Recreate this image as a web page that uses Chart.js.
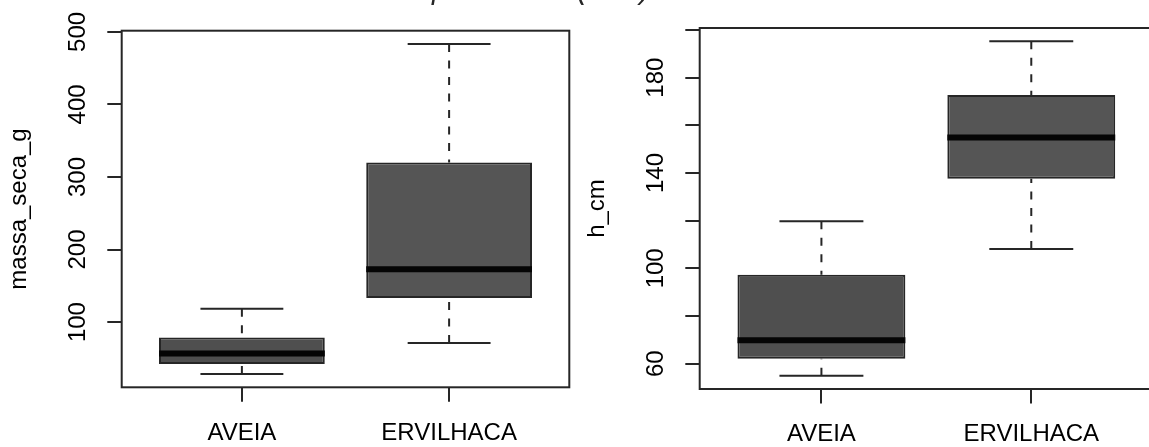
<!DOCTYPE html>
<html lang="pt">
<head>
<meta charset="UTF-8">
<title>massa_seca_g e h_cm por espécie</title>
<script src="https://cdn.jsdelivr.net/npm/chart.js"></script>
<style>
  html, body { margin: 0; padding: 0; background: #fff; overflow: hidden; }
  .panel { position: absolute; left: 0; top: 0; height: 447px; }
  #leftPanel { width: 1149px; }
  #rightPanel { width: 1165px; }
</style>
</head>
<body>
<div class="panel" id="leftPanel"><canvas id="massaChart"></canvas></div>
<div class="panel" id="rightPanel"><canvas id="alturaChart"></canvas></div>

<script>
  // data
  const categories = ['AVEIA', 'ERVILHACA'];
  const boxColors = ['#4f4f4f', '#555555'];

  const massaMin = [28.3, 71.0];
  const massaQ1 = [42.1, 133.1];
  const massaMedian = [56.8, 172.7];
  const massaQ3 = [78.9, 319.9];
  const massaMax = [118.5, 483.4];
  const massaTicks = [100, 200, 300, 400, 500];
  const massaTickLabels = ['100', '200', '300', '400', '500'];

  const alturaMin = [55.0, 108.1];
  const alturaQ1 = [62.1, 137.6];
  const alturaMedian = [69.8, 154.9];
  const alturaQ3 = [97.3, 172.7];
  const alturaMax = [119.8, 195.2];
  const alturaTicks = [60, 80, 100, 120, 140, 160, 180, 200];
  const alturaTickLabels = ['60', '', '100', '', '140', '', '180', ''];

  const FONT = {family: '"Liberation Sans", Arial, sans-serif', size: 24};
  const INK = '#262626';

  // R style axis limits: 4% beyond the data range
  function paddedRange(lo, hi) {
    const a = Math.min(...lo), b = Math.max(...hi), r = b - a;
    return [a - 0.04 * r, b + 0.04 * r];
  }

  // median bar, dashed whiskers, staples and the frame
  const boxExtras = {
    id: 'boxExtras',
    afterDatasetsDraw(chart, args, o) {
      const {ctx, scales: {x, y}} = chart;
      const meta = chart.getDatasetMeta(0);
      ctx.save();
      o.median.forEach((m, i) => {
        const cx = x.getPixelForValue(i + 1);
        const half = meta.data[i].width / 2;
        const yMax = y.getPixelForValue(o.max[i]);
        const yMin = y.getPixelForValue(o.min[i]);

        ctx.strokeStyle = INK;
        ctx.lineWidth = 2;
        ctx.setLineDash([8, 8.5]);
        ctx.beginPath();
        ctx.moveTo(cx, yMax);
        ctx.lineTo(cx, y.getPixelForValue(o.q3[i]));
        ctx.moveTo(cx, yMin);
        ctx.lineTo(cx, y.getPixelForValue(o.q1[i]));
        ctx.stroke();
        ctx.setLineDash([]);

        ctx.beginPath();
        ctx.moveTo(cx - half / 2, yMax);
        ctx.lineTo(cx + half / 2, yMax);
        ctx.moveTo(cx - half / 2, yMin);
        ctx.lineTo(cx + half / 2, yMin);
        ctx.stroke();

        const ym = y.getPixelForValue(m);
        ctx.strokeStyle = '#050505';
        ctx.lineWidth = 6;
        ctx.lineCap = 'butt';
        ctx.beginPath();
        ctx.moveTo(cx - half, ym);
        ctx.lineTo(cx + half, ym);
        ctx.stroke();
      });
      const a = chart.chartArea;
      ctx.strokeStyle = INK;
      ctx.lineWidth = 2;
      ctx.strokeRect(a.left, a.top, a.right - a.left, a.bottom - a.top);
      ctx.restore();
    }
  };

  // title sits above the picture, only its descenders show
  const cutTitle = {
    id: 'cutTitle',
    afterDraw(chart, args, o) {
      if (!o.text) return;
      const ctx = chart.ctx;
      ctx.save();
      ctx.font = 'italic 29px "Liberation Sans", Arial, sans-serif';
      ctx.fillStyle = INK;
      ctx.textBaseline = 'alphabetic';
      const lead = ctx.measureText(o.lead).width;
      ctx.fillText(o.text, o.anchor - lead, o.baseline);
      ctx.restore();
    }
  };

  function makeBox(canvasId, cfg) {
    const [yLo, yHi] = paddedRange(cfg.min, cfg.max);
    const n = categories.length;
    return new Chart(document.getElementById(canvasId), {
      type: 'bar',
      data: {
        datasets: [{
          data: categories.map((c, i) => ({x: i + 1, y: [cfg.q1[i], cfg.q3[i]]})),
          backgroundColor: boxColors,
          borderColor: INK,
          borderWidth: 2,
          borderSkipped: false,
          barPercentage: 0.8,
          categoryPercentage: 1
        }]
      },
      options: {
        responsive: true,
        maintainAspectRatio: false,
        animation: false,
        layout: {padding: cfg.padding},
        plugins: {
          legend: {display: false},
          tooltip: {enabled: false},
          boxExtras: {median: cfg.median, min: cfg.min, max: cfg.max, q1: cfg.q1, q3: cfg.q3},
          cutTitle: cfg.title || {}
        },
        scales: {
          x: {
            type: 'linear',
            offset: false,
            min: 0.5 - 0.04 * n,
            max: n + 0.5 + 0.04 * n,
            afterBuildTicks: s => { s.ticks = categories.map((c, i) => ({value: i + 1})); },
            afterFit: s => { s.height = cfg.xAxisHeight; },
            border: {display: false},
            grid: {drawOnChartArea: false, offset: false, tickLength: 14.4, color: INK, lineWidth: 2},
            ticks: {
              autoSkip: false, maxRotation: 0, padding: 17, color: '#000', font: FONT,
              callback: v => categories[v - 1]
            }
          },
          y: {
            type: 'linear',
            min: yLo,
            max: yHi,
            afterBuildTicks: s => { s.ticks = cfg.ticks.map(v => ({value: v})); },
            afterFit: s => { s.width = 121.7; },
            border: {display: false},
            grid: {drawOnChartArea: false, tickLength: 14.4, color: INK, lineWidth: 2},
            ticks: {
              autoSkip: false, minRotation: 90, maxRotation: 90, crossAlign: 'center',
              padding: 9, color: '#000', font: FONT,
              callback: v => cfg.tickLabels[cfg.ticks.indexOf(v)]
            },
            title: {display: true, text: cfg.yTitle, color: '#000', font: FONT, padding: {top: 4.5, bottom: 0}}
          }
        }
      },
      plugins: [boxExtras, cutTitle]
    });
  }

  makeBox('massaChart', {
    min: massaMin, q1: massaQ1, median: massaMedian, q3: massaQ3, max: massaMax,
    ticks: massaTicks, tickLabels: massaTickLabels, yTitle: 'massa_seca_g',
    padding: {left: 0, right: 579.7, top: 30.7, bottom: 0},
    xAxisHeight: 59.7,
    title: {text: 'Massa seca e altura por cultura (dias)', lead: 'Massa seca e altura ', anchor: 432, baseline: -1}
  });

  makeBox('alturaChart', {
    min: alturaMin, q1: alturaQ1, median: alturaMedian, q3: alturaQ3, max: alturaMax,
    ticks: alturaTicks, tickLabels: alturaTickLabels, yTitle: 'h_cm',
    padding: {left: 578, right: 12, top: 28, bottom: 0},
    xAxisHeight: 58
  });
</script>
</body>
</html>
